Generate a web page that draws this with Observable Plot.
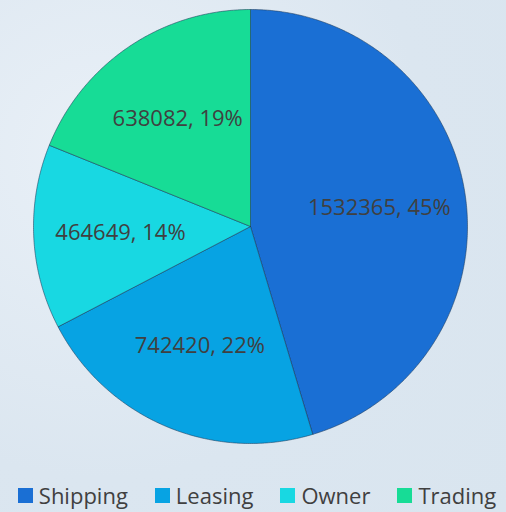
<!DOCTYPE html>
<html><head><meta charset="utf-8">
<script src="https://cdn.jsdelivr.net/npm/d3@7"></script>
<script src="https://cdn.jsdelivr.net/npm/@observablehq/plot@0.6"></script>
<style>
html,body{margin:0;padding:0;}
body{width:506px;height:512px;overflow:hidden;font-family:"Open Sans",sans-serif;
  background:radial-gradient(circle at 20% 30%,#e9f0f7 0,#dbe6f0 60%,#d9e5ef 100%);}
#chart svg{display:block;background:transparent !important;}
#legend .lg-swatches, #legend > div{font-family:"Open Sans",sans-serif !important;font-size:22px !important;color:#404040 !important;
  display:flex !important;justify-content:center !important;align-items:center !important;margin:0 !important;min-height:0 !important;padding-top:10px;padding-left:8px;}
#legend .lg-swatch{margin-right:27px !important;display:inline-flex;align-items:center;}
#legend .lg-swatch:last-child{margin-right:0 !important;}
#legend .lg-swatch > svg{margin-right:6px !important;}
</style></head><body><div id="chart"></div><div id="legend"></div>
<script>
const categories = ["Shipping", "Leasing", "Owner", "Trading"];
const values = [1532365, 742420, 464649, 638082];
const colors = ["#1a6fd4", "#07a3e3", "#18d8e2", "#17dc96"];

const data = categories.map((c, i) => ({cat: c, value: values[i]}));
const total = d3.sum(values);
const arcs = d3.pie().sort(null).value(d => d.value)(data);

const pts = [];
arcs.forEach(a => {
  const cat = a.data.cat;
  const n = Math.ceil((a.endAngle - a.startAngle) / (Math.PI / 360));
  pts.push({cat, x: 0, y: 0});
  for (let i = 0; i <= n; i++) {
    const t = a.startAngle + (a.endAngle - a.startAngle) * i / n;
    pts.push({cat, x: Math.sin(t), y: Math.cos(t)});
  }
  pts.push({cat, x: 0, y: 0});
});

const labels = arcs.map(a => {
  const m = (a.startAngle + a.endAngle) / 2;
  return {
    x: 0.6 * Math.sin(m), y: 0.6 * Math.cos(m),
    text: `${a.data.value}, ${Math.round(a.data.value / total * 100)}%`
  };
});

const colorScale = {domain: categories, range: colors};

const chart = Plot.plot({
  width: 506, height: 470,
  marginLeft: 33, marginRight: 39, marginTop: 9, marginBottom: 27,
  x: {domain: [-1, 1], axis: null},
  y: {domain: [-1, 1], axis: null},
  color: colorScale,
  style: {background: "transparent", fontFamily: "Open Sans"},
  marks: [
    Plot.line(pts, {x: "x", y: "y", z: "cat", fill: "cat", stroke: "#1e3b5a", strokeOpacity: 0.55, strokeWidth: 1, strokeLinejoin: "round"}),
    Plot.text(labels, {x: "x", y: "y", text: "text", fontSize: 22, fill: "#404040", fontFamily: "Open Sans"})
  ]
});
document.getElementById("chart").appendChild(chart);

const legend = Plot.legend({color: colorScale, legend: "swatches", swatchSize: 15, className: "lg"});
document.getElementById("legend").appendChild(legend);
</script>
</body></html>
